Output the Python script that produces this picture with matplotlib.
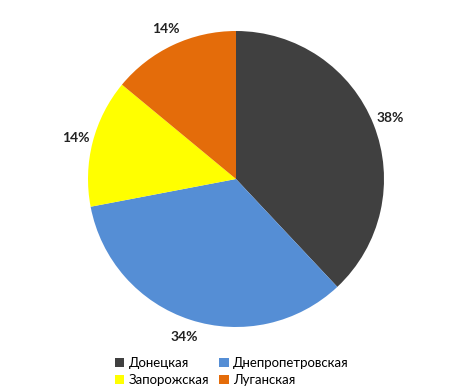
import matplotlib
matplotlib.use("Agg")
import matplotlib.pyplot as plt
from matplotlib.patches import Patch

plt.rcParams['font.family'] = ['Lato', 'DejaVu Sans']

regiones = ["Донецкая", "Днепропетровская", "Запорожская", "Луганская"]
porcentajes = [38, 34, 14, 14]
colores = ["#404040", "#558ED5", "#FFFF00", "#E46C0A"]

fig = plt.figure(figsize=(4.67, 3.87), dpi=100)
cx, cy, r = 236, 179, 148
W, H = 467, 387
ax = fig.add_axes([(cx - r) / W, (H - cy - r) / H, 2 * r / W, 2 * r / H])

ax.pie(porcentajes, colors=colores, startangle=90, counterclock=False,
       labels=[f"{p}%" for p in porcentajes], labeldistance=1.12,
       textprops=dict(fontsize=10, weight='bold', color='#222222'))
for t in ax.texts:
    t.set_horizontalalignment('center')
    t.set_verticalalignment('center')
ax.set_xlim(-1, 1)
ax.set_ylim(-1, 1)

# orden por columnas para que quede fila a fila como en el original
orden = [0, 2, 1, 3]
handles = [Patch(facecolor=colores[i], label=regiones[i]) for i in orden]
fig.legend(handles=handles, loc='upper left', bbox_to_anchor=(115 / W, 1 - 357 / H),
           ncol=2, frameon=False, fontsize=9.5, handlelength=0.7, handleheight=0.7,
           handletextpad=0.35, columnspacing=0.75, labelspacing=0.4,
           borderaxespad=0, borderpad=0)

fig.savefig("out.png", dpi=100)
